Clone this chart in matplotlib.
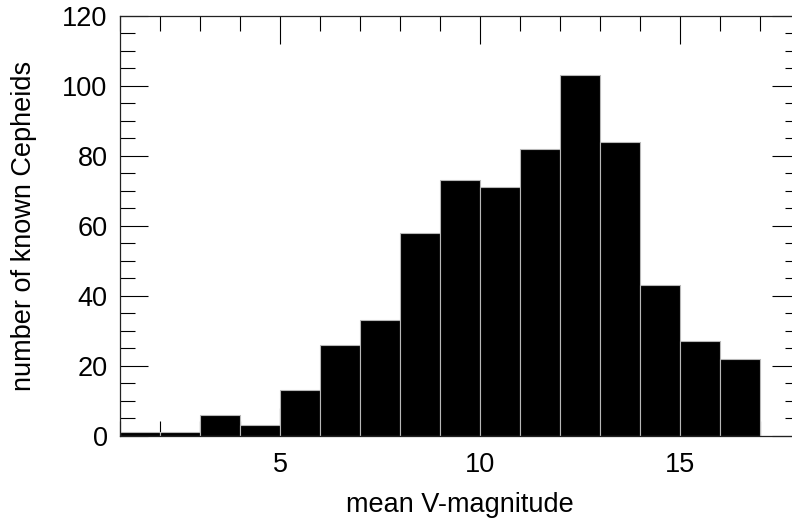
import matplotlib
matplotlib.use("Agg")
import matplotlib.pyplot as plt
from matplotlib.ticker import MultipleLocator

# histogram of mean V magnitudes, bins of width 1 from 1 to 17
bin_edges = list(range(1, 18))
counts = [1, 1, 6, 3, 13, 26, 33, 58, 73, 71, 82, 103, 84, 43, 27, 22]

W, H = 792, 521
plt.rcParams["font.family"] = ["Liberation Sans", "DejaVu Sans"]

fig = plt.figure(figsize=(W / 100, H / 100), dpi=100)
# axes box in pixels: left 120, right 800 (clipped), top 15.7, bottom 435.7
ax = fig.add_axes([120 / W, 1 - 435.7 / H, 680 / W, 420 / H])

# bars sit above the tick marks so the light bin edges run down to the axis
ax.bar(
    bin_edges[:-1],
    counts,
    width=1.0,
    align="edge",
    color="black",
    edgecolor="#b8b8b8",
    linewidth=0.8,
    zorder=3,
)

ax.set_xlim(1, 18)
ax.set_ylim(0, 120)
ax.xaxis.set_major_locator(MultipleLocator(5))
ax.xaxis.set_minor_locator(MultipleLocator(1))
ax.yaxis.set_major_locator(MultipleLocator(20))
ax.yaxis.set_minor_locator(MultipleLocator(5))

for s in ax.spines.values():
    s.set_linewidth(0.9)
    s.set_color("#222222")
    s.set_zorder(4)

ax.tick_params(which="both", direction="in", top=True, right=True,
               color="black", width=0.8, labelsize=19.5)
ax.tick_params(which="major", length=20.5)
ax.tick_params(which="minor", length=11)
ax.tick_params(axis="x", which="major", pad=12)
ax.tick_params(axis="y", which="major", pad=9)

# only 5, 10, 15 are labelled on the magnitude axis
ax.set_xticks([5, 10, 15])

fig.text(460 / W, 1 - 512 / H, "mean V-magnitude", ha="center",
         va="baseline", fontsize=19.5)
fig.text(24 / W, 1 - 225.7 / H, "number of known Cepheids", ha="center",
         va="center", rotation=90, fontsize=19.5)

fig.savefig("out.png", dpi=100)
